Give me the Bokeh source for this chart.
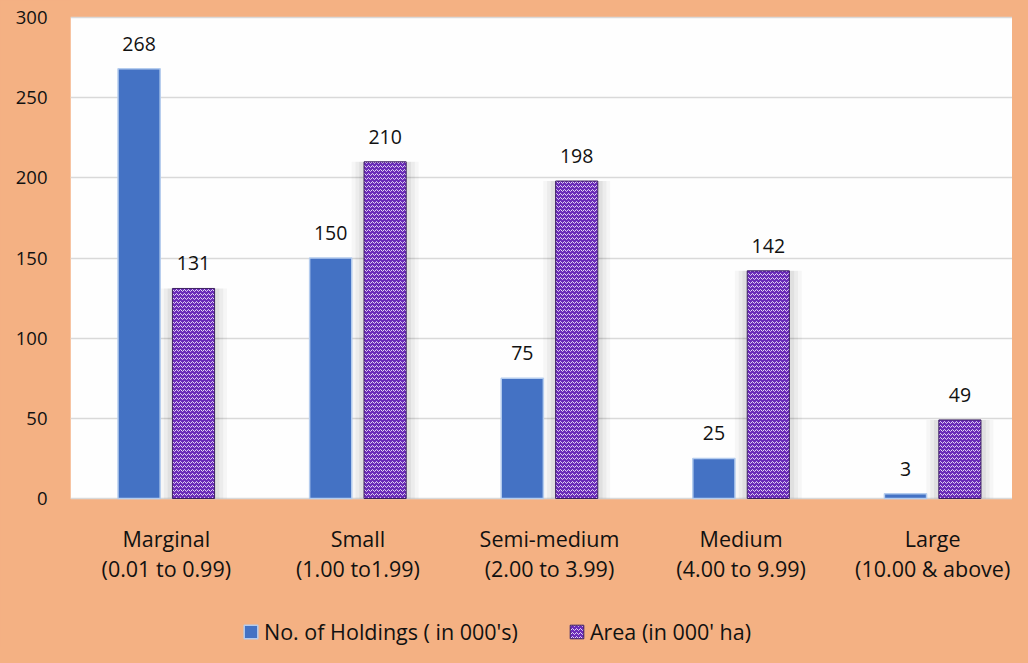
from bokeh.plotting import figure
from bokeh.models import (ColumnDataSource, FixedTicker, LabelSet,
                          Legend, LegendItem, Range1d, BoxAnnotation)
from bokeh.transform import dodge
from bokeh.core.properties import value
from bokeh.embed import file_html
from bokeh.resources import INLINE

categories = ["Marginal", "Small", "Semi-medium", "Medium", "Large"]
size_ranges = ["(0.01 to 0.99)", "(1.00 to1.99)", "(2.00 to 3.99)",
               "(4.00 to 9.99)", "(10.00 & above)"]
holdings = [268, 150, 75, 25, 3]
area = [131, 210, 198, 142, 49]
y_ticks = [0, 50, 100, 150, 200, 250, 300]
series_names = ["No. of Holdings ( in 000's)", "Area (in 000' ha)"]

BG = "#F4B183"
FONT = "Open Sans"
W, H = 1012, 647
LEFT, TOP, BASE = 70, 17, 498          # plot-area edges in screen px
GROUP_PX = (1028 - LEFT) / len(categories)   # slot width of one category
px_per_unit = (BASE - TOP) / (y_ticks[-1] - y_ticks[0])
y_min = -(H - BASE) / px_per_unit
y_max = y_ticks[-1] + TOP / px_per_unit
x_max = (W - LEFT) / GROUP_PX

slot = [i + 0.5 for i in range(len(categories))]   # category slot centres
src = ColumnDataSource(dict(x=slot, cat=categories, rng=size_ranges,
                            holdings=holdings, area=area,
                            hl=[str(v) for v in holdings],
                            al=[str(v) for v in area],
                            zero=[0] * len(categories)))

p = figure(width=W, height=H, x_range=Range1d(0, x_max),
           y_range=Range1d(y_min, y_max), output_backend="svg",
           toolbar_location=None, min_border_left=LEFT, min_border_right=0,
           min_border_top=0, min_border_bottom=0)
p.background_fill_color = BG
p.border_fill_color = BG
p.outline_line_color = None

# white plot area spanning 0..300
p.add_layout(BoxAnnotation(bottom=y_ticks[0], top=y_ticks[-1],
                           fill_color="#FEFEFE", fill_alpha=1,
                           line_color=None, level="image"))

p.xgrid.grid_line_color = None
p.ygrid.ticker = FixedTicker(ticks=y_ticks)
p.ygrid.grid_line_color = "#D9D9D9"
p.ygrid.grid_line_width = 1.5

bw = 0.22
off = 0.142

# soft glow behind the patterned bars
for extra, a in [(0.13, 0.03), (0.09, 0.04), (0.05, 0.05)]:
    p.vbar(x=dodge("x", off), top="area", width=bw + extra,
           source=src, fill_color="#000000", fill_alpha=a, line_color=None)

r1 = p.vbar(x=dodge("x", -off), top="holdings", width=bw,
            source=src, fill_color="#4472C4", line_color="#B4CCEE", line_width=1.5)
r2 = p.vbar(x=dodge("x", off), top="area", width=bw,
            source=src, fill_color="#6A2BB8", line_color="#3C2160", line_width=1,
            hatch_pattern="horizontal_wave", hatch_color="#EFE6FA",
            hatch_scale=4, hatch_weight=0.9)

lab_kw = dict(text_font=value(FONT), text_font_size="19.5px", text_color="#111111",
              text_align="center", text_baseline="bottom", y_offset=18)
p.add_layout(LabelSet(x=dodge("x", -off), y="holdings",
                      text="hl", source=src, **lab_kw))
p.add_layout(LabelSet(x=dodge("x", off), y="area",
                      text="al", source=src, **lab_kw))

# category labels (two lines) under the plot area
cat_kw = dict(text_font=value(FONT), text_font_size="21.5px", text_color="#111111",
              text_align="center", text_baseline="middle")
p.add_layout(LabelSet(x="x", y="zero", text="cat", source=src,
                      y_offset=-40, **cat_kw))
p.add_layout(LabelSet(x="x", y="zero", text="rng", source=src,
                      y_offset=-70, **cat_kw))

p.xaxis.visible = False

p.yaxis.ticker = FixedTicker(ticks=y_ticks)
p.yaxis.axis_line_color = None
p.yaxis.major_tick_line_color = None
p.yaxis.minor_tick_line_color = None
p.yaxis.major_label_standoff = 17
p.yaxis.major_label_text_font = FONT
p.yaxis.major_label_text_font_size = "18.5px"
p.yaxis.major_label_text_color = "#111111"

legend = Legend(items=[LegendItem(label=series_names[0], renderers=[r1]),
                       LegendItem(label=series_names[1], renderers=[r2])],
                location=(172, 1), orientation="horizontal",
                background_fill_alpha=0, border_line_alpha=0, padding=0,
                margin=0, spacing=50, glyph_width=17, glyph_height=17,
                label_standoff=5, label_text_font=FONT,
                label_text_font_size="21.5px", label_text_color="#111111")
p.add_layout(legend)

html = file_html(p, INLINE)
html = html.replace("<head>", "<head><style>html,body{background:%s;}</style>" % BG, 1)
open("out.html", "w").write(html)
